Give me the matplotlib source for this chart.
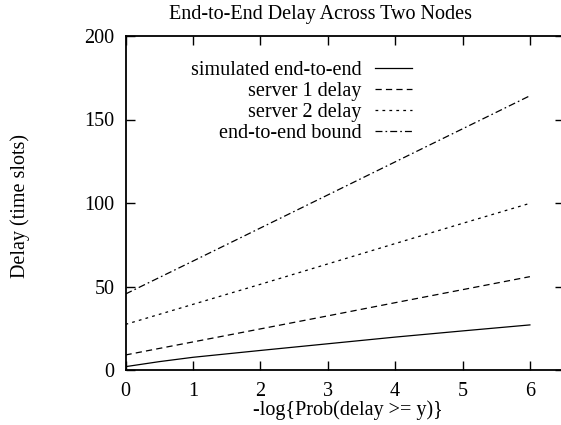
import matplotlib

matplotlib.use("Agg")

import matplotlib.pyplot as plt

# values
x_sim = [0, 0.5, 1, 2, 3, 4, 5, 6]
simulated = [2.0, 5.0, 7.6, 11.7, 15.7, 19.7, 23.4, 27.0]

x_calc = [0, 1, 2, 3, 4, 5, 6]
server1 = [9.0, 16.8, 24.6, 32.4, 40.3, 48.1, 55.9]
server2 = [27.3, 39.3, 51.3, 63.5, 75.7, 87.8, 99.8]
bound = [45.5, 65.2, 85.0, 104.8, 124.6, 144.4, 164.2]

labels = ["simulated end-to-end", "server 1 delay", "server 2 delay", "end-to-end bound"]
x_ticks = [0, 1, 2, 3, 4, 5, 6]
y_ticks = [0, 50, 100, 150, 200]

plt.rcParams["font.family"] = ["Liberation Serif", "DejaVu Serif"]
plt.rcParams["lines.scale_dashes"] = False

FS = 14.5
W, H = 561, 425
fig = plt.figure(figsize=(W / 100, H / 100), dpi=100)
left, right, top, bottom = 125.5, 563.6, 36.0, 370.0
ax = fig.add_axes([left / W, 1 - bottom / H, (right - left) / W, (bottom - top) / H])

lw = 0.9
ax.plot(x_sim, simulated, color="black", lw=lw, label=labels[0])
ax.plot(x_calc, server1, color="black", lw=lw, dashes=(4.5, 3.0), label=labels[1])
ax.plot(x_calc, server2, color="black", lw=lw, dashes=(2.0, 3.0), label=labels[2])
ax.plot(x_calc, bound, color="black", lw=lw, dashes=(5.0, 2.2, 1.2, 2.2), label=labels[3])

ax.set_xlim(0, 6.5)
ax.set_ylim(0, 200)
ax.set_xticks(x_ticks)
ax.set_yticks(y_ticks)
ax.tick_params(direction="in", length=6.5, width=1.0, labelsize=FS,
               top=True, right=True)
ax.tick_params(axis="x", pad=9)
ax.tick_params(axis="y", pad=8)
ax.spines["right"].set_visible(False)
for side in ("left", "bottom", "top"):
    ax.spines[side].set_linewidth(1.3)

fig.text(320.8 / W, 1 - 14 / H, "End-to-End Delay Across Two Nodes",
         ha="center", va="center", fontsize=FS)
fig.text(348 / W, 1 - 410 / H, "-log{Prob(delay >= y)}",
         ha="center", va="center", fontsize=FS)
fig.text(20 / W, 1 - 206 / H, "Delay (time slots)", rotation=90,
         ha="center", va="center", fontsize=FS)

leg = ax.legend(loc="upper right", bbox_to_anchor=((412 - left) / (right - left), 0.926),
                frameon=False, markerfirst=False, fontsize=FS, handlelength=1.83,
                handletextpad=0.66, labelspacing=0.1, borderpad=0, borderaxespad=0)
# right-align the legend entries like gnuplot does
leg._legend_box._children[1]._children[0].align = "right"

fig.savefig("out.png", dpi=100)
